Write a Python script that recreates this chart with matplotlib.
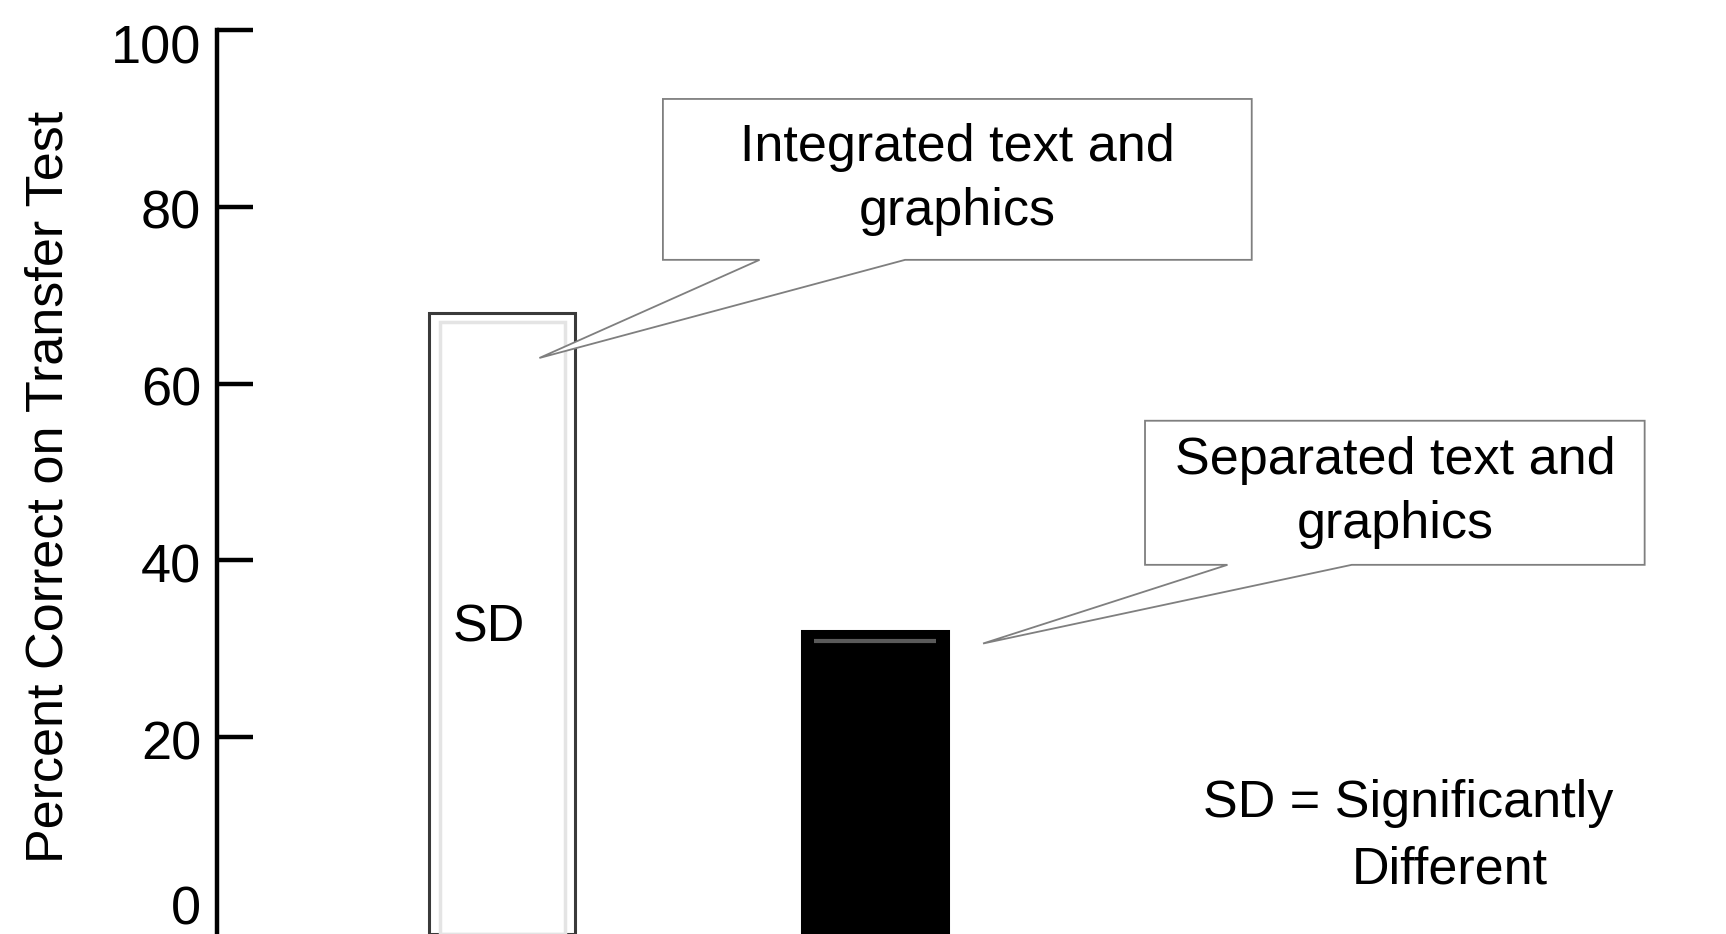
import numpy as np
import matplotlib
matplotlib.use("Agg")
import matplotlib.pyplot as plt
from matplotlib.patches import Polygon

plt.rcParams['font.family'] = ['Liberation Sans', 'DejaVu Sans']

# data
categories = ["Integrated text and\ngraphics", "Separated text and\ngraphics"]
values = [68, 32]
bar_colors = ["white", "black"]
yticks = [0, 20, 40, 60, 80, 100]
ylabel = "Percent Correct on Transfer Test"
sd_note = ["SD = Significantly", "Different"]

# callout boxes: (left, right, top, bottom, base1, base2, tip_x, tip_y) in data units
callouts = [
    (0.431, 2.009, 92.2, 74.0, 0.690, 1.080, 0.100, 62.9),
    (1.723, 3.062, 55.8, 39.5, 1.944, 2.277, 1.289, 30.6),
]

fig = plt.figure(figsize=(17.26, 9.34), dpi=100)
ax = fig.add_axes([217 / 1726, 0, 1 - 217 / 1726, (934 - 30) / 934])

ymin = -2.26
w = 0.39
x = np.arange(len(values))
vals = np.array(values, dtype=float)

# bars run down to the bottom of the picture
ax.bar(x, vals - ymin, bottom=ymin, width=w, color=bar_colors,
       edgecolor=['#3a3a3a', 'black'], linewidth=2.2, zorder=2)
# soft bevel: light rim inside the white bar, grey highlight on the black one
ax.bar(x[0], vals[0] - ymin - 1.0, bottom=ymin, width=w * 0.86, color='none',
       edgecolor='#e4e4e4', linewidth=2.5, zorder=2)
ax.hlines(vals[1] - 1.1, x[1] - w * 0.42, x[1] + w * 0.42, color='#5a5a5a',
          linewidth=3, zorder=3)

# callouts
for (l, r, t, b, b1, b2, tx, ty), label in zip(callouts, categories):
    verts = [(l, t), (r, t), (r, b), (b2, b), (tx, ty), (b1, b), (l, b)]
    ax.add_patch(Polygon(verts, closed=True, facecolor='white',
                         edgecolor='#7f7f7f', linewidth=1.3, zorder=3))
    ax.text((l + r) / 2, (t + b) / 2, label, ha='center', va='center',
            fontsize=37.5, linespacing=1.4, zorder=4)

ax.text(-0.035, 32.3, "SD", ha='center', va='center', fontsize=37.5, zorder=4)
ax.text(2.428, 12.45, sd_note[0], ha='center', va='center', fontsize=37.5)
ax.text(2.54, 4.98, sd_note[1], ha='center', va='center', fontsize=37.5)

ax.set_xlim(-0.764, 3.28)
ax.set_ylim(ymin, 100)
# tick marks (no mark at 0 in the original, it is cut off)
ax.set_yticks([t for t in yticks if t > 0])
ax.set_xticks([])
for s in ['top', 'right', 'bottom']:
    ax.spines[s].set_visible(False)
ax.spines['left'].set_linewidth(3.2)
ax.tick_params(axis='y', direction='in', length=26, width=3.2,
               labelleft=False)

# tick labels sit a little below their ticks, as in the original
shifts = {0: 4, 20: -8, 40: -8, 60: -8, 80: -8, 100: -20}
for t in yticks:
    ax.annotate(str(t), xy=(0, t), xycoords=ax.get_yaxis_transform(),
                xytext=(-16, shifts[t]), textcoords='offset pixels',
                ha='right', va='center', fontsize=39, annotation_clip=False)

fig.text(49.5 / 1726, 1 - 487 / 934, ylabel, rotation=90, ha='center',
         va='center', fontsize=37.5)

fig.savefig("out.png", dpi=100)
